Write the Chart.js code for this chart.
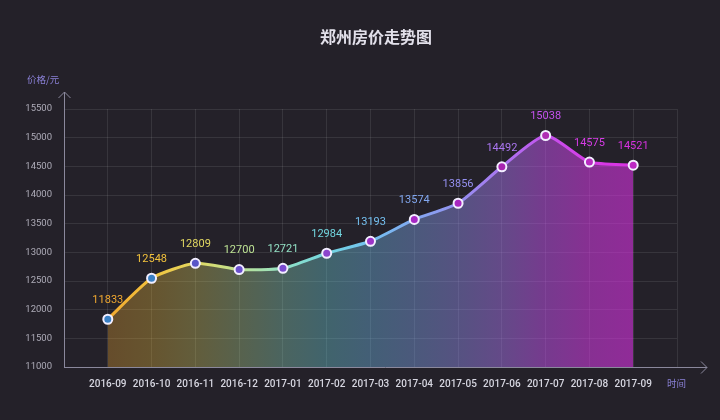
<!DOCTYPE html>
<html>
<head>
<meta charset="utf-8">
<script src="https://cdn.jsdelivr.net/npm/chart.js@4.4.1/dist/chart.umd.min.js"></script>
<style>
    html, body { margin: 0; padding: 0; background: #242129; }
    #wrap { width: 720px; height: 420px; position: relative; }
</style>
</head>
<body>
<div id="wrap"><canvas id="price-chart" width="720" height="420"></canvas></div>
<script>
// 郑州房价走势图 - data
const months = ['2016-09', '2016-10', '2016-11', '2016-12', '2017-01', '2017-02', '2017-03',
                '2017-04', '2017-05', '2017-06', '2017-07', '2017-08', '2017-09'];
const prices = [11833, 12548, 12809, 12700, 12721, 12984, 13193, 13574, 13856, 14492, 15038, 14575, 14521];
const yTicks = { min: 11000, max: 15500, step: 500 };

// colours along the line, one per month
const lineColors = ['#f0a830', '#f2c23c', '#e2d862', '#bde294', '#92e0c4', '#72d6e0', '#74c0f0',
                    '#82a8f0', '#9490f0', '#aa76f0', '#c452ee', '#d63ce6', '#d832e2'];
const pointColors = ['#3a80c4', '#3a80c4', '#5a56c8', '#6a50cc', '#7a4ad0', '#8c44cc', '#9c34c8',
                     '#a628c4', '#a826c0', '#a824b0', '#b02cb4', '#b82cc0', '#bc28c4'];

// pad the category axis with an empty slot on both ends
const labels = ['', ...months, ''];
const values = [null, ...prices, null];

const BG = '#242129';
const AXIS = '#8a889c';
const GRID = 'rgba(255,255,255,0.09)';

function hexA(hex, a) {
    const n = parseInt(hex.slice(1), 16);
    return `rgba(${n >> 16},${(n >> 8) & 255},${n & 255},${a})`;
}

function makeGradient(chart, alphaFn) {
    const x = chart.scales.x;
    if (!chart.chartArea || !x) return null;
    const x0 = x.getPixelForValue(1);
    const x1 = x.getPixelForValue(months.length);
    if (!Number.isFinite(x0) || !Number.isFinite(x1) || x0 === x1) return null;
    const g = chart.ctx.createLinearGradient(x0, 0, x1, 0);
    lineColors.forEach((c, i) => {
        const t = i / (lineColors.length - 1);
        g.addColorStop(t, alphaFn ? hexA(c, alphaFn(t)) : c);
    });
    return g;
}

// background, axis arrows, axis names and title
const decor = {
    id: 'decor',
    beforeDraw(chart) {
        const ctx = chart.ctx;
        ctx.save();
        ctx.fillStyle = BG;
        ctx.fillRect(0, 0, chart.width, chart.height);
        ctx.restore();
    },
    afterDatasetsDraw(chart) {
        const ctx = chart.ctx;
        const a = chart.chartArea;
        ctx.save();
        ctx.strokeStyle = AXIS;
        ctx.lineWidth = 1;
        // y axis with arrow
        ctx.beginPath();
        ctx.moveTo(a.left + 0.5, a.bottom);
        ctx.lineTo(a.left + 0.5, a.top - 17);
        ctx.moveTo(a.left - 5.5, a.top - 11);
        ctx.lineTo(a.left + 0.5, a.top - 17);
        ctx.lineTo(a.left + 6.5, a.top - 11);
        // x axis with arrow
        ctx.moveTo(a.left, a.bottom + 0.5);
        ctx.lineTo(a.right + 30, a.bottom + 0.5);
        ctx.moveTo(a.right + 24, a.bottom - 5.5);
        ctx.lineTo(a.right + 30, a.bottom + 0.5);
        ctx.lineTo(a.right + 24, a.bottom + 6.5);
        ctx.stroke();

        ctx.fillStyle = '#8a80d6';
        ctx.font = '9.5px "Noto Sans CJK SC"';
        ctx.textBaseline = 'middle';
        ctx.textAlign = 'left';
        ctx.fillText('价格/元', 27, 79);
        ctx.fillText('时间', a.right - 10, a.bottom + 16);

        ctx.fillStyle = '#e2e0ea';
        ctx.font = 'bold 16px "Noto Sans CJK SC"';
        ctx.textAlign = 'center';
        ctx.fillText('郑州房价走势图', 376, 37);
        ctx.restore();
    },
    afterDraw(chart) {
        // value labels above points
        const ctx = chart.ctx;
        const meta = chart.getDatasetMeta(0);
        ctx.save();
        ctx.font = '11px Roboto';
        ctx.textAlign = 'center';
        ctx.textBaseline = 'middle';
        meta.data.forEach((pt, i) => {
            const v = values[i];
            if (v == null) return;
            ctx.fillStyle = lineColors[i - 1];
            ctx.fillText(String(v), pt.x, pt.y - 19);
        });
        ctx.restore();
    }
};

new Chart(document.getElementById('price-chart'), {
    type: 'line',
    data: {
        labels: labels,
        datasets: [{
            data: values,
            borderWidth: 3,
            tension: 0.2,
            spanGaps: false,
            borderColor: ctx => makeGradient(ctx.chart) || '#f0a830',
            backgroundColor: ctx => makeGradient(ctx.chart, t => 0.32 + 0.28 * t * t) || 'transparent',
            fill: 'start',
            pointRadius: 4.5,
            pointHoverRadius: 4.5,
            pointBorderWidth: 2,
            pointBorderColor: '#f2eeff',
            pointBackgroundColor: ctx => pointColors[ctx.dataIndex - 1] || '#3a80c4'
        }]
    },
    options: {
        responsive: false,
        animation: false,
        layout: { padding: { top: 109, right: 43, left: 0, bottom: 0 } },
        plugins: {
            legend: { display: false },
            title: { display: false },
            tooltip: { enabled: false }
        },
        scales: {
            x: {
                offset: false,
                border: { display: false },
                grid: { color: GRID, drawTicks: false, offset: false },
                ticks: {
                    color: '#d6d6e0',
                    font: { family: 'Roboto', size: 10, weight: '500' },
                    padding: 11,
                    maxRotation: 0,
                    autoSkip: false
                },
                afterFit: scale => { scale.height = 53; }
            },
            y: {
                min: yTicks.min,
                max: yTicks.max,
                border: { display: false },
                grid: { color: GRID, drawTicks: false },
                ticks: {
                    stepSize: yTicks.step,
                    color: '#aeacb8',
                    font: { family: 'Roboto', size: 9.5 },
                    padding: 12,
                    callback: v => String(v)
                },
                afterFit: scale => { scale.width = 64; }
            }
        }
    },
    plugins: [decor]
});
</script>
</body>
</html>
